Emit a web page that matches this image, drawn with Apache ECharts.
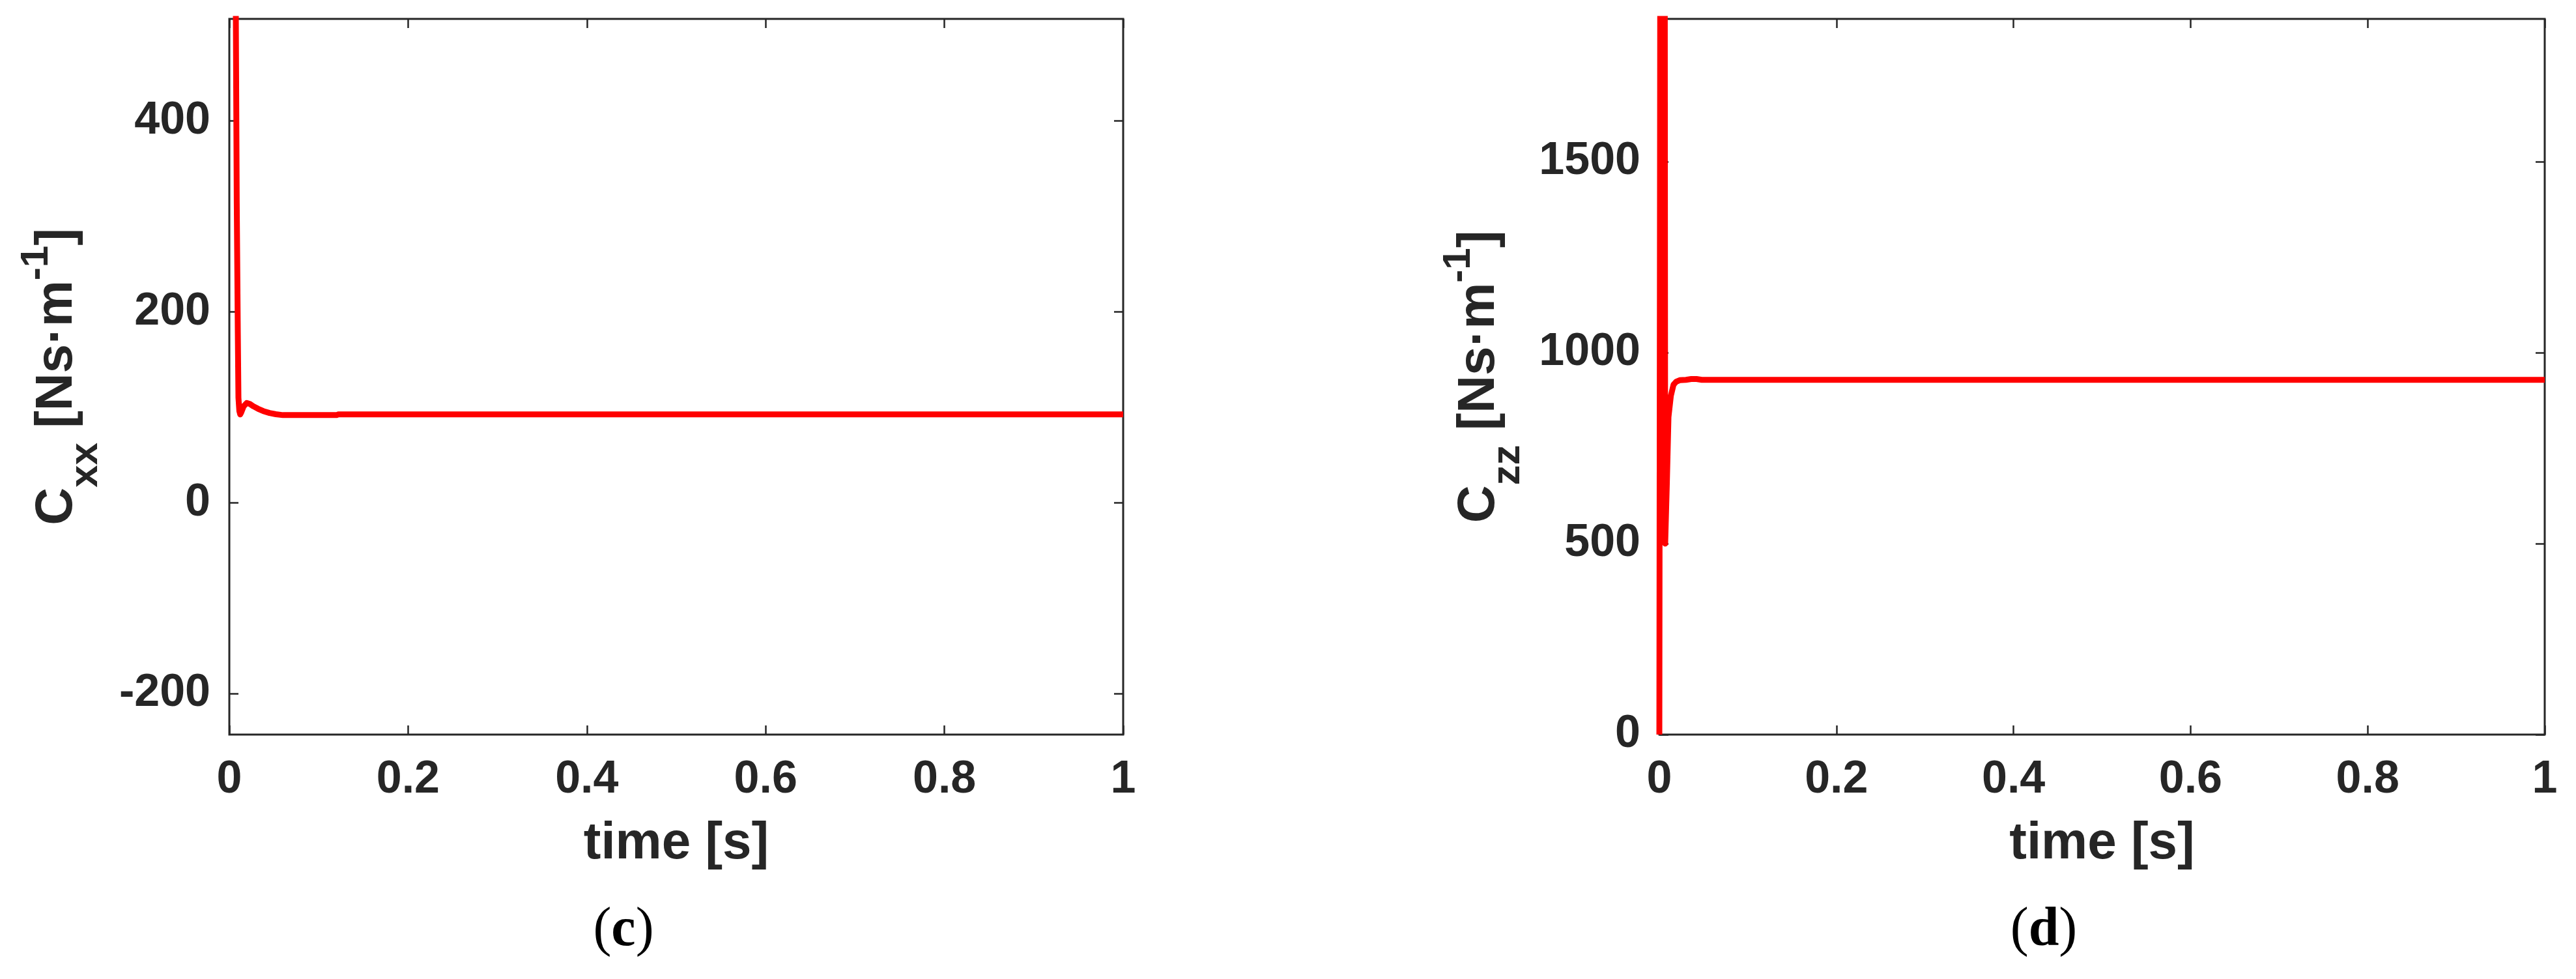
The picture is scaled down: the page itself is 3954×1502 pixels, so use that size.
<!DOCTYPE html>
<html>
<head>
<meta charset="utf-8">
<script src="https://cdn.jsdelivr.net/npm/echarts@6/dist/echarts.min.js"></script>
<style>
html, body { margin: 0; padding: 0; background: #fff; }
#chart { width: 3954px; height: 1502px; }
</style>
</head>
<body>
<div id="chart"></div>
<script>
// tick values
var timeTicks = [0, 0.2, 0.4, 0.6, 0.8, 1];
var cxxTicks = [-200, 0, 200, 400];
var czzTicks = [0, 500, 1000, 1500];

// (c) C_xx (first point is above the frame)
var cxxTime = [0.0062, 0.0073, 0.0083, 0.0095, 0.0102, 0.0112, 0.0122, 0.0135, 0.016, 0.0195, 0.023, 0.027, 0.032, 0.038, 0.045, 0.052, 0.06, 0.12, 0.122, 1];
var cxxValue = [1400, 507, 314, 178, 110, 96, 92.5, 95, 101, 104.5, 103.5, 101, 98.5, 96, 94, 92.7, 91.8, 91.8, 92.5, 92.5];

// (d) C_zz, the peak goes above the frame
var czzTime = [0, 0.0012, 0.006, 0.0066, 0.0085, 0.0103, 0.013, 0.016, 0.019, 0.023, 0.03, 0.036, 0.042, 0.048, 1];
var czzValue = [0, 2400, 2400, 500, 660, 831, 887, 916, 924, 928, 929, 931, 931, 929, 929];

var ink = '#262626';
var sans = "'Liberation Sans', Arial, Helvetica, sans-serif";
var serif = "'Liberation Serif', 'Times New Roman', serif";

function zip(a, b) {
  var out = [];
  for (var i = 0; i < a.length; i++) out.push([a[i], b[i]]);
  return out;
}

function tick(vals) {
  return { show: true, inside: true, length: 14, customValues: vals, lineStyle: { color: ink, width: 2.5 } };
}

function plain(v) { return String(v); }

function xAxes(gi) {
  return [{
    type: 'value', gridIndex: gi, position: 'bottom', min: 0, max: 1,
    name: 'time [s]', nameLocation: 'middle', nameGap: 128,
    nameTextStyle: { color: ink, fontFamily: sans, fontWeight: 'bold', fontSize: 80 },
    axisLine: { show: false, onZero: false },
    axisTick: tick(timeTicks),
    axisLabel: { customValues: timeTicks, formatter: plain, margin: 35, color: ink, fontFamily: sans, fontWeight: 'bold', fontSize: 70 },
    splitLine: { show: false }
  }, {
    type: 'value', gridIndex: gi, position: 'top', min: 0, max: 1,
    axisLine: { show: false, onZero: false },
    axisTick: tick(timeTicks),
    axisLabel: { show: false },
    splitLine: { show: false }
  }];
}

function yAxes(gi, min, max, ticks, sub, gap) {
  return [{
    type: 'value', gridIndex: gi, position: 'left', min: min, max: max,
    name: '{m|C}{s|' + sub + '}{m| [Ns·m}{p|-1}{m|]}',
    nameLocation: 'middle', nameRotate: 90, nameGap: gap,
    nameTextStyle: {
      color: ink, fontFamily: sans, fontWeight: 'bold', fontSize: 80,
      rich: {
        m: { color: ink, fontFamily: sans, fontWeight: 'bold', fontSize: 80, lineHeight: 200 },
        s: { color: ink, fontFamily: sans, fontWeight: 'bold', fontSize: 62, verticalAlign: 'bottom', padding: [0, 0, 25, 0] },
        p: { color: ink, fontFamily: sans, fontWeight: 'bold', fontSize: 60, verticalAlign: 'top', padding: [38, 0, 0, 0] }
      }
    },
    axisLine: { show: false, onZero: false },
    axisTick: tick(ticks),
    axisLabel: { customValues: ticks, formatter: plain, margin: 29, color: ink, fontFamily: sans, fontWeight: 'bold', fontSize: 70 },
    splitLine: { show: false }
  }, {
    type: 'value', gridIndex: gi, position: 'right', min: min, max: max,
    axisLine: { show: false, onZero: false },
    axisTick: tick(ticks),
    axisLabel: { show: false },
    splitLine: { show: false }
  }];
}

function caption(x, letter) {
  return {
    type: 'text', x: x, y: 1428,
    style: {
      text: '{p|(}{b|' + letter + '}{p|)}',
      align: 'center', verticalAlign: 'middle',
      rich: {
        p: { fontFamily: serif, fontSize: 84, fill: '#000' },
        b: { fontFamily: serif, fontSize: 84, fontWeight: 'bold', fill: '#000' }
      }
    }
  };
}

var chart = echarts.init(document.getElementById('chart'), null, { renderer: 'canvas' });

var option = {
  animation: false,
  backgroundColor: '#fff',
  grid: [
    { left: 352, top: 29, width: 1372, height: 1098, show: true, borderColor: ink, borderWidth: 3, backgroundColor: 'transparent' },
    { left: 2547, top: 29, width: 1359, height: 1098, show: true, borderColor: ink, borderWidth: 3, backgroundColor: 'transparent' }
  ],
  xAxis: xAxes(0).concat(xAxes(1)),
  yAxis: yAxes(0, -243, 507, cxxTicks, 'xx', 164).concat(yAxes(1, 0, 1874, czzTicks, 'zz', 176)),
  series: [{
    type: 'line', xAxisIndex: 0, yAxisIndex: 0,
    data: zip(cxxTime, cxxValue),
    showSymbol: false, symbol: 'none', clip: true,
    lineStyle: { color: '#ff0000', width: 9, join: 'round' }
  }, {
    type: 'line', xAxisIndex: 2, yAxisIndex: 2,
    data: zip(czzTime, czzValue),
    showSymbol: false, symbol: 'none', clip: true,
    lineStyle: { color: '#ff0000', width: 9, join: 'round' }
  }],
  graphic: [caption(957, 'c'), caption(3137, 'd')]
};

chart.setOption(option);
</script>
</body>
</html>
